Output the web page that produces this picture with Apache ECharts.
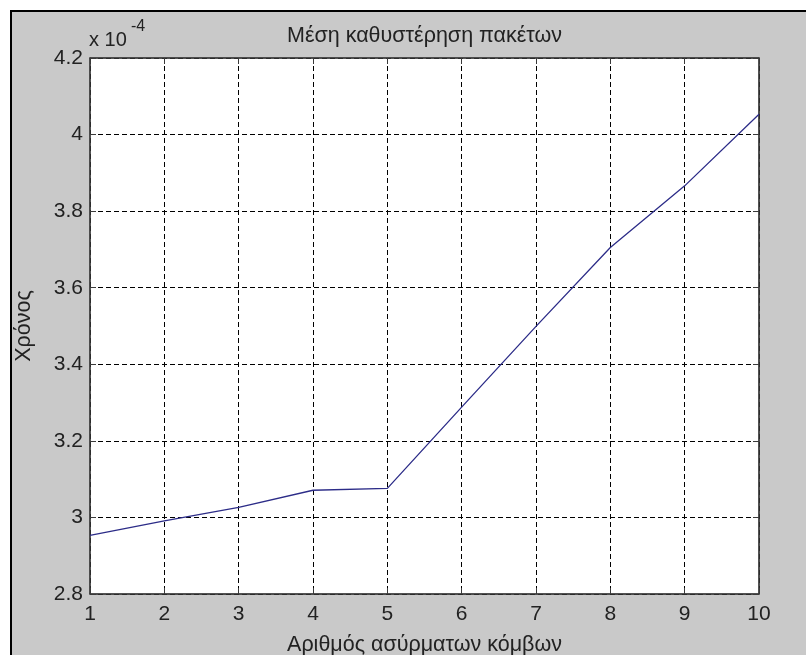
<!DOCTYPE html>
<html>
<head>
<meta charset="utf-8">
<script src="https://cdn.jsdelivr.net/npm/echarts@6/dist/echarts.min.js"></script>
<style>
  html, body { margin: 0; padding: 0; background: #ffffff; }
  #chart { width: 806px; height: 655px; }
</style>
</head>
<body>
<div id="chart"></div>
<script>
// Number of wireless nodes
const nodes = [1, 2, 3, 4, 5, 6, 7, 8, 9, 10];
// Mean packet delay, in units of 1e-4 s
const meanDelay = [2.953, 2.991, 3.026, 3.071, 3.076, 3.288, 3.499, 3.705, 3.866, 4.053];
// Axis ranges and tick steps
const xRange = [1, 10];
const xStep = 1;
const yRange = [2.8, 4.2];
const yStep = 0.2;

const FONT = 'Arial, "Liberation Sans", sans-serif';
const TEXT = '#222222';
const FRAME = '#3a3a3a';

const chart = echarts.init(document.getElementById('chart'), null, { renderer: 'canvas' });

const points = nodes.map((n, i) => [n, meanDelay[i]]);
const fmtY = v => String(Math.round(v * 10) / 10);

const tickInside = { show: true, inside: true, length: 6, lineStyle: { color: FRAME, width: 1 } };
const gridDash = { show: true, lineStyle: { color: '#000000', width: 1, type: [5, 3] } };

chart.setOption({
  backgroundColor: '#ffffff',
  animation: false,
  title: {
    text: 'Μέση καθυστέρηση πακέτων',
    left: 282,
    top: 20,
    textStyle: { fontFamily: FONT, fontSize: 21.5, fontWeight: 'normal', color: TEXT }
  },
  graphic: [
    {
      type: 'rect',
      z: -100,
      silent: true,
      shape: { x: 11, y: 11, width: 900, height: 700 },
      style: { fill: '#c9c9c9', stroke: '#000000', lineWidth: 2 }
    },
    {
      type: 'text',
      left: 89,
      top: 30,
      style: { text: 'x 10', font: '20px ' + FONT, fill: TEXT }
    },
    {
      type: 'text',
      left: 131,
      top: 19,
      style: { text: '-4', font: '16px ' + FONT, fill: TEXT }
    }
  ],
  grid: {
    left: 90,
    right: 47,
    top: 58,
    bottom: 61,
    outerBoundsMode: 'none',
    containLabel: false,
    show: true,
    backgroundColor: '#ffffff',
    borderColor: FRAME,
    borderWidth: 1
  },
  xAxis: [
    {
      type: 'value',
      min: xRange[0],
      max: xRange[1],
      interval: xStep,
      name: 'Αριθμός ασύρματων κόμβων',
      nameLocation: 'middle',
      nameGap: 40,
      nameTextStyle: { fontFamily: FONT, fontSize: 21.5, color: TEXT },
      axisLine: { show: true, lineStyle: { color: FRAME, width: 1.5 } },
      axisTick: tickInside,
      axisLabel: { fontFamily: FONT, fontSize: 21, color: TEXT, margin: 10 },
      splitLine: gridDash
    },
    {
      type: 'value',
      position: 'top',
      min: xRange[0],
      max: xRange[1],
      interval: xStep,
      axisLine: { show: true, lineStyle: { color: FRAME, width: 1.5 } },
      axisTick: tickInside,
      axisLabel: { show: false },
      splitLine: { show: false }
    }
  ],
  yAxis: [
    {
      type: 'value',
      min: yRange[0],
      max: yRange[1],
      interval: yStep,
      name: 'Χρόνος',
      nameLocation: 'middle',
      nameRotate: 90,
      nameGap: 55,
      nameTextStyle: { fontFamily: FONT, fontSize: 21.5, color: TEXT },
      axisLine: { show: true, lineStyle: { color: FRAME, width: 1.5 } },
      axisTick: tickInside,
      axisLabel: { fontFamily: FONT, fontSize: 21, color: TEXT, margin: 7, formatter: fmtY },
      splitLine: gridDash
    },
    {
      type: 'value',
      position: 'right',
      min: yRange[0],
      max: yRange[1],
      interval: yStep,
      axisLine: { show: true, lineStyle: { color: FRAME, width: 1.5 } },
      axisTick: tickInside,
      axisLabel: { show: false },
      splitLine: { show: false }
    }
  ],
  series: [
    {
      type: 'line',
      data: points,
      showSymbol: false,
      symbol: 'none',
      lineStyle: { color: '#2c2c88', width: 1.3 },
      z: 5
    }
  ]
});
</script>
</body>
</html>
